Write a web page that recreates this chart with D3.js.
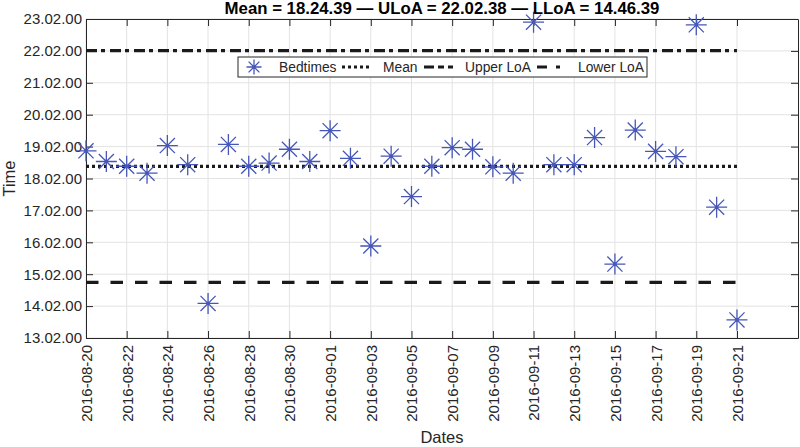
<!DOCTYPE html>
<html>
<head>
<meta charset="utf-8">
<script src="https://cdn.jsdelivr.net/npm/d3@7"></script>
<style>
  body { margin: 0; background: #fff; }
  svg { display: block; font-family: "Liberation Sans", Arial, Helvetica, sans-serif; }
</style>
</head>
<body>
<div id="chart"></div>
<script>
// bedtimes, one per night
let dates = ['2016-08-20','2016-08-21','2016-08-22','2016-08-23','2016-08-24','2016-08-25','2016-08-26',
    '2016-08-27','2016-08-28','2016-08-29','2016-08-30','2016-08-31','2016-09-01','2016-09-02',
    '2016-09-03','2016-09-04','2016-09-05','2016-09-06','2016-09-07','2016-09-08','2016-09-09',
    '2016-09-10','2016-09-11','2016-09-12','2016-09-13','2016-09-14','2016-09-15','2016-09-16',
    '2016-09-17','2016-09-18','2016-09-19','2016-09-20','2016-09-21']
let bedtimes = ['18:54','18:34','18:25','18:12','19:04','18:28','14:07',
    '19:06','18:25','18:31','18:57','18:34','19:32','18:40',
    '15:55','18:44','17:28','18:25','19:00','18:57','18:24',
    '18:12','22:56','18:28','18:28','19:19','15:21','19:33',
    '18:53','18:43','22:51','17:08','13:36']

// mean and limits of agreement (h, m, s)
let statNames = ['Mean', 'ULoA', 'LLoA']
let statTimes = ['18.24.39', '22.02.38', '14.46.39']

let yTickLabels = ['13.02.00','14.02.00','15.02.00','16.02.00','17.02.00','18.02.00',
    '19.02.00','20.02.00','21.02.00','22.02.00','23.02.00']
let legendLabels = ['Bedtimes', 'Mean', 'Upper LoA', 'Lower LoA']

let width = 800, height = 447
let margin = {left: 86, right: 2, top: 19, bottom: 109}
let axisColor = '#262626'
let starColor = '#4657b8'

let parseDay = d3.timeParse('%Y-%m-%d')
let toHours = s => { let p = s.split(/[:.]/).map(Number); return p[0] + p[1] / 60 + (p[2] || 0) / 3600 }

let data = dates.map((d, i) => ({date: parseDay(d), h: toHours(bedtimes[i])}))
let stats = statTimes.map(toHours)

let x = d3.scaleTime()
    .domain([parseDay('2016-08-20'), parseDay('2016-09-24')])
    .range([margin.left, width - margin.right])
let y = d3.scaleLinear()
    .domain([toHours(yTickLabels[0]), toHours(yTickLabels[yTickLabels.length - 1])])
    .range([height - margin.bottom, margin.top])

let xTicks = d3.timeDay.range(parseDay('2016-08-20'), parseDay('2016-09-22'), 2)
let yTicks = yTickLabels.map(toHours)

let svg = d3.select('#chart').append('svg')
    .attr('width', width).attr('height', height)

// grid
svg.append('g').selectAll('line').data(xTicks).join('line')
    .attr('x1', d => x(d)).attr('x2', d => x(d))
    .attr('y1', y.range()[0]).attr('y2', y.range()[1])
    .attr('stroke', '#e3e3e3').attr('stroke-width', 1)
svg.append('g').selectAll('line').data(yTicks).join('line')
    .attr('x1', x.range()[0]).attr('x2', x.range()[1])
    .attr('y1', d => y(d)).attr('y2', d => y(d))
    .attr('stroke', '#e3e3e3').attr('stroke-width', 1)

// axes (matlab style: ticks pointing in, on all sides)
let tickLen = 7
let xAxis = svg.append('g')
    .attr('transform', `translate(0,${y.range()[0]})`)
    .call(d3.axisBottom(x).tickValues(xTicks).tickSizeInner(-tickLen).tickSizeOuter(0)
        .tickFormat(d3.timeFormat('%Y-%m-%d')))
xAxis.selectAll('text')
    .attr('transform', 'rotate(-90)')
    .attr('text-anchor', 'end')
    .attr('x', -7).attr('y', 0).attr('dy', '0.36em')
svg.append('g')
    .attr('transform', `translate(0,${y.range()[1]})`)
    .call(d3.axisTop(x).tickValues(xTicks).tickSizeInner(-tickLen).tickSizeOuter(0).tickFormat(''))
svg.append('g')
    .attr('transform', `translate(${x.range()[0]},0)`)
    .call(d3.axisLeft(y).tickValues(yTicks).tickSizeInner(-tickLen).tickSizeOuter(0)
        .tickFormat((d, i) => yTickLabels[i]).tickPadding(4))
svg.append('g')
    .attr('transform', `translate(${x.range()[1]},0)`)
    .call(d3.axisRight(y).tickValues(yTicks).tickSizeInner(-tickLen).tickSizeOuter(0).tickFormat(''))

svg.selectAll('.domain, .tick line').attr('stroke', axisColor).attr('stroke-width', 1)
svg.selectAll('.tick text').attr('fill', axisColor).style('font-size', '15px')
    .style('font-family', '"Liberation Sans", Arial, sans-serif')

// reference lines
let x0 = x(data[0].date), x1 = x(data[data.length - 1].date)
let lineStyles = [
    {v: stats[0], dash: '3,3'},          // mean, dotted
    {v: stats[1], dash: '11,4,4,5'},     // upper LoA, dash-dot
    {v: stats[2], dash: '12.5,12'}       // lower LoA, dashed
]
svg.append('g').selectAll('line').data(lineStyles).join('line')
    .attr('x1', x0).attr('x2', x1)
    .attr('y1', d => y(d.v)).attr('y2', d => y(d.v))
    .attr('stroke', '#1a1a1a').attr('stroke-width', 3.2)
    .attr('stroke-dasharray', d => d.dash)

// asterisk marker, 8 arms like matlab '*'
function star(r) {
    let a = r * 0.72
    return `M${-r},0L${r},0M0,${-r}L0,${r}M${-a},${-a}L${a},${a}M${-a},${a}L${a},${-a}`
}
svg.append('g').selectAll('g').data(data).join('g')
    .attr('transform', d => `translate(${x(d.date)},${y(d.h)})`)
    .each(function () {
        let g = d3.select(this)
        g.append('path').attr('d', star(10.5)).attr('stroke', starColor)
            .attr('stroke-width', 1.3).attr('fill', 'none')
        g.append('circle').attr('r', 1.6).attr('fill', starColor)
    })

// title and labels
svg.append('text')
    .attr('x', (x.range()[0] + x.range()[1]) / 2).attr('y', 14)
    .attr('text-anchor', 'middle')
    .style('font-size', '16.8px').style('font-weight', 'bold').attr('fill', '#000')
    .text(statNames.map((n, i) => `${n} = ${statTimes[i]}`).join(' \u2014 '))

svg.append('text')
    .attr('transform', `translate(15,${(y.range()[0] + y.range()[1]) / 2}) rotate(-90)`)
    .attr('text-anchor', 'middle')
    .style('font-size', '16.5px').attr('fill', axisColor)
    .text('Time')

svg.append('text')
    .attr('x', (x.range()[0] + x.range()[1]) / 2).attr('y', 443)
    .attr('text-anchor', 'middle')
    .style('font-size', '16.5px').attr('fill', axisColor)
    .text('Dates')

// legend (sample styles as they appear in the original)
let legend = svg.append('g').attr('transform', 'translate(238,57)')
legend.append('rect')
    .attr('width', 409).attr('height', 20)
    .attr('fill', '#fff').attr('stroke', axisColor).attr('stroke-width', 1)
let sampleX = [16, 104, 186, 299]
let textX = [41, 145, 227, 340]
let lg = legend.append('g').attr('transform', 'translate(0,10)')
lg.append('path').attr('d', star(7.5)).attr('transform', `translate(${sampleX[0]},0)`)
    .attr('stroke', starColor).attr('stroke-width', 1.3).attr('fill', 'none')
lg.append('circle').attr('cx', sampleX[0]).attr('r', 1.3).attr('fill', starColor)
// matlab legend shows dashed for upper and dash-dot for lower
let samples = [
    {x: sampleX[1], dash: '3,3'},
    {x: sampleX[2], dash: '10,4,6,4'},
    {x: sampleX[3], dash: '10,9,4,9'}
]
lg.selectAll('line.s').data(samples).join('line')
    .attr('class', 's')
    .attr('x1', d => d.x).attr('x2', d => d.x + 29)
    .attr('y1', 0).attr('y2', 0)
    .attr('stroke', '#1a1a1a').attr('stroke-width', 3)
    .attr('stroke-dasharray', d => d.dash)
lg.selectAll('text').data(legendLabels).join('text')
    .attr('x', (d, i) => textX[i]).attr('y', 0).attr('dy', '0.36em')
    .style('font-size', '13.8px').attr('fill', axisColor)
    .text(d => d)
</script>
</body>
</html>
